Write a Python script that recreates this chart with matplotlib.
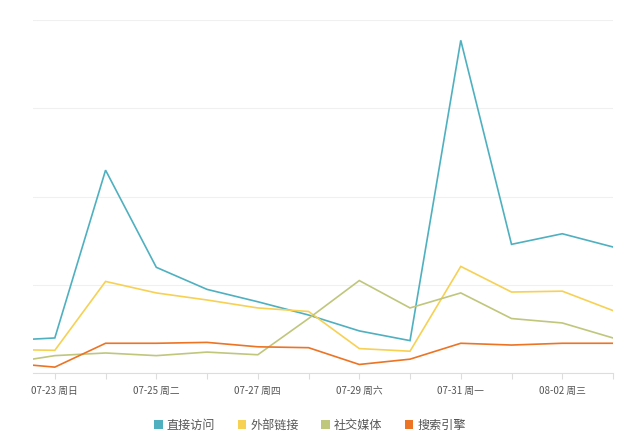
import matplotlib
matplotlib.use('Agg')
import matplotlib.pyplot as plt
from matplotlib.patches import Patch
import numpy as np

plt.rcParams['font.family'] = ['Noto Sans CJK SC', 'DejaVu Sans']

# days 07-22 .. 08-03 (07-22 partly cut off at the left)
days = ['07-22', '07-23', '07-24', '07-25', '07-26', '07-27', '07-28',
        '07-29', '07-30', '07-31', '08-01', '08-02', '08-03']
tick_labels = ['', '07-23 周日', '', '07-25 周二', '', '07-27 周四', '',
               '07-29 周六', '', '07-31 周一', '', '08-02 周三', '']

direct = [37, 40, 230, 120, 95, 81, 66, 48, 37, 377, 146, 158, 143]
external = [27, 26, 104, 91, 83, 74, 70, 28, 25, 121, 92, 93, 71]
social = [11, 20, 23, 20, 24, 21, 62, 105, 74, 91, 62, 57, 40]
search = [12, 7, 34, 34, 35, 30, 29, 10, 16, 34, 32, 34, 34]

names = ['直接访问', '外部链接', '社交媒体', '搜索引擎']
colors = ['#4fb0c0', '#f7d154', '#bfc77c', '#ec7424']

fig = plt.figure(figsize=(6.4, 4.43), dpi=100)
ax = fig.add_axes([33 / 640, 1 - 373.3 / 443, 580 / 640, 353.3 / 443])

x = np.arange(len(days))
for series, name, c in zip([direct, external, social, search], names, colors):
    ax.plot(x, series, color=c, lw=1.2, label=name, solid_joinstyle='miter')

ax.set_xticks(x[1:])
ax.set_xticklabels(tick_labels[1:], fontsize=7, color='#555555')
ax.tick_params(axis='x', length=4, color='#dddddd', pad=5)
ax.set_xlim(0.57, len(days) - 1)

ax.set_ylim(0, 400)
ax.set_yticks([0, 100, 200, 300, 400])
ax.yaxis.grid(True, color='#f0f0f0', lw=0.8)
ax.set_axisbelow(True)
ax.tick_params(axis='y', left=False, labelleft=False)

for s in ['top', 'right', 'left']:
    ax.spines[s].set_visible(False)
ax.spines['bottom'].set_color('#dddddd')

handles = [Patch(facecolor=c, edgecolor='none') for c in colors]
leg = ax.legend(handles, names, loc='center', bbox_to_anchor=((310 - 33) / 580, -0.147),
                ncol=4, frameon=False, fontsize=8.7, handlelength=0.7,
                handleheight=0.7, columnspacing=1.85, handletextpad=0.35)
for t in leg.get_texts():
    t.set_color('#555555')

fig.savefig('out.png', dpi=100)
